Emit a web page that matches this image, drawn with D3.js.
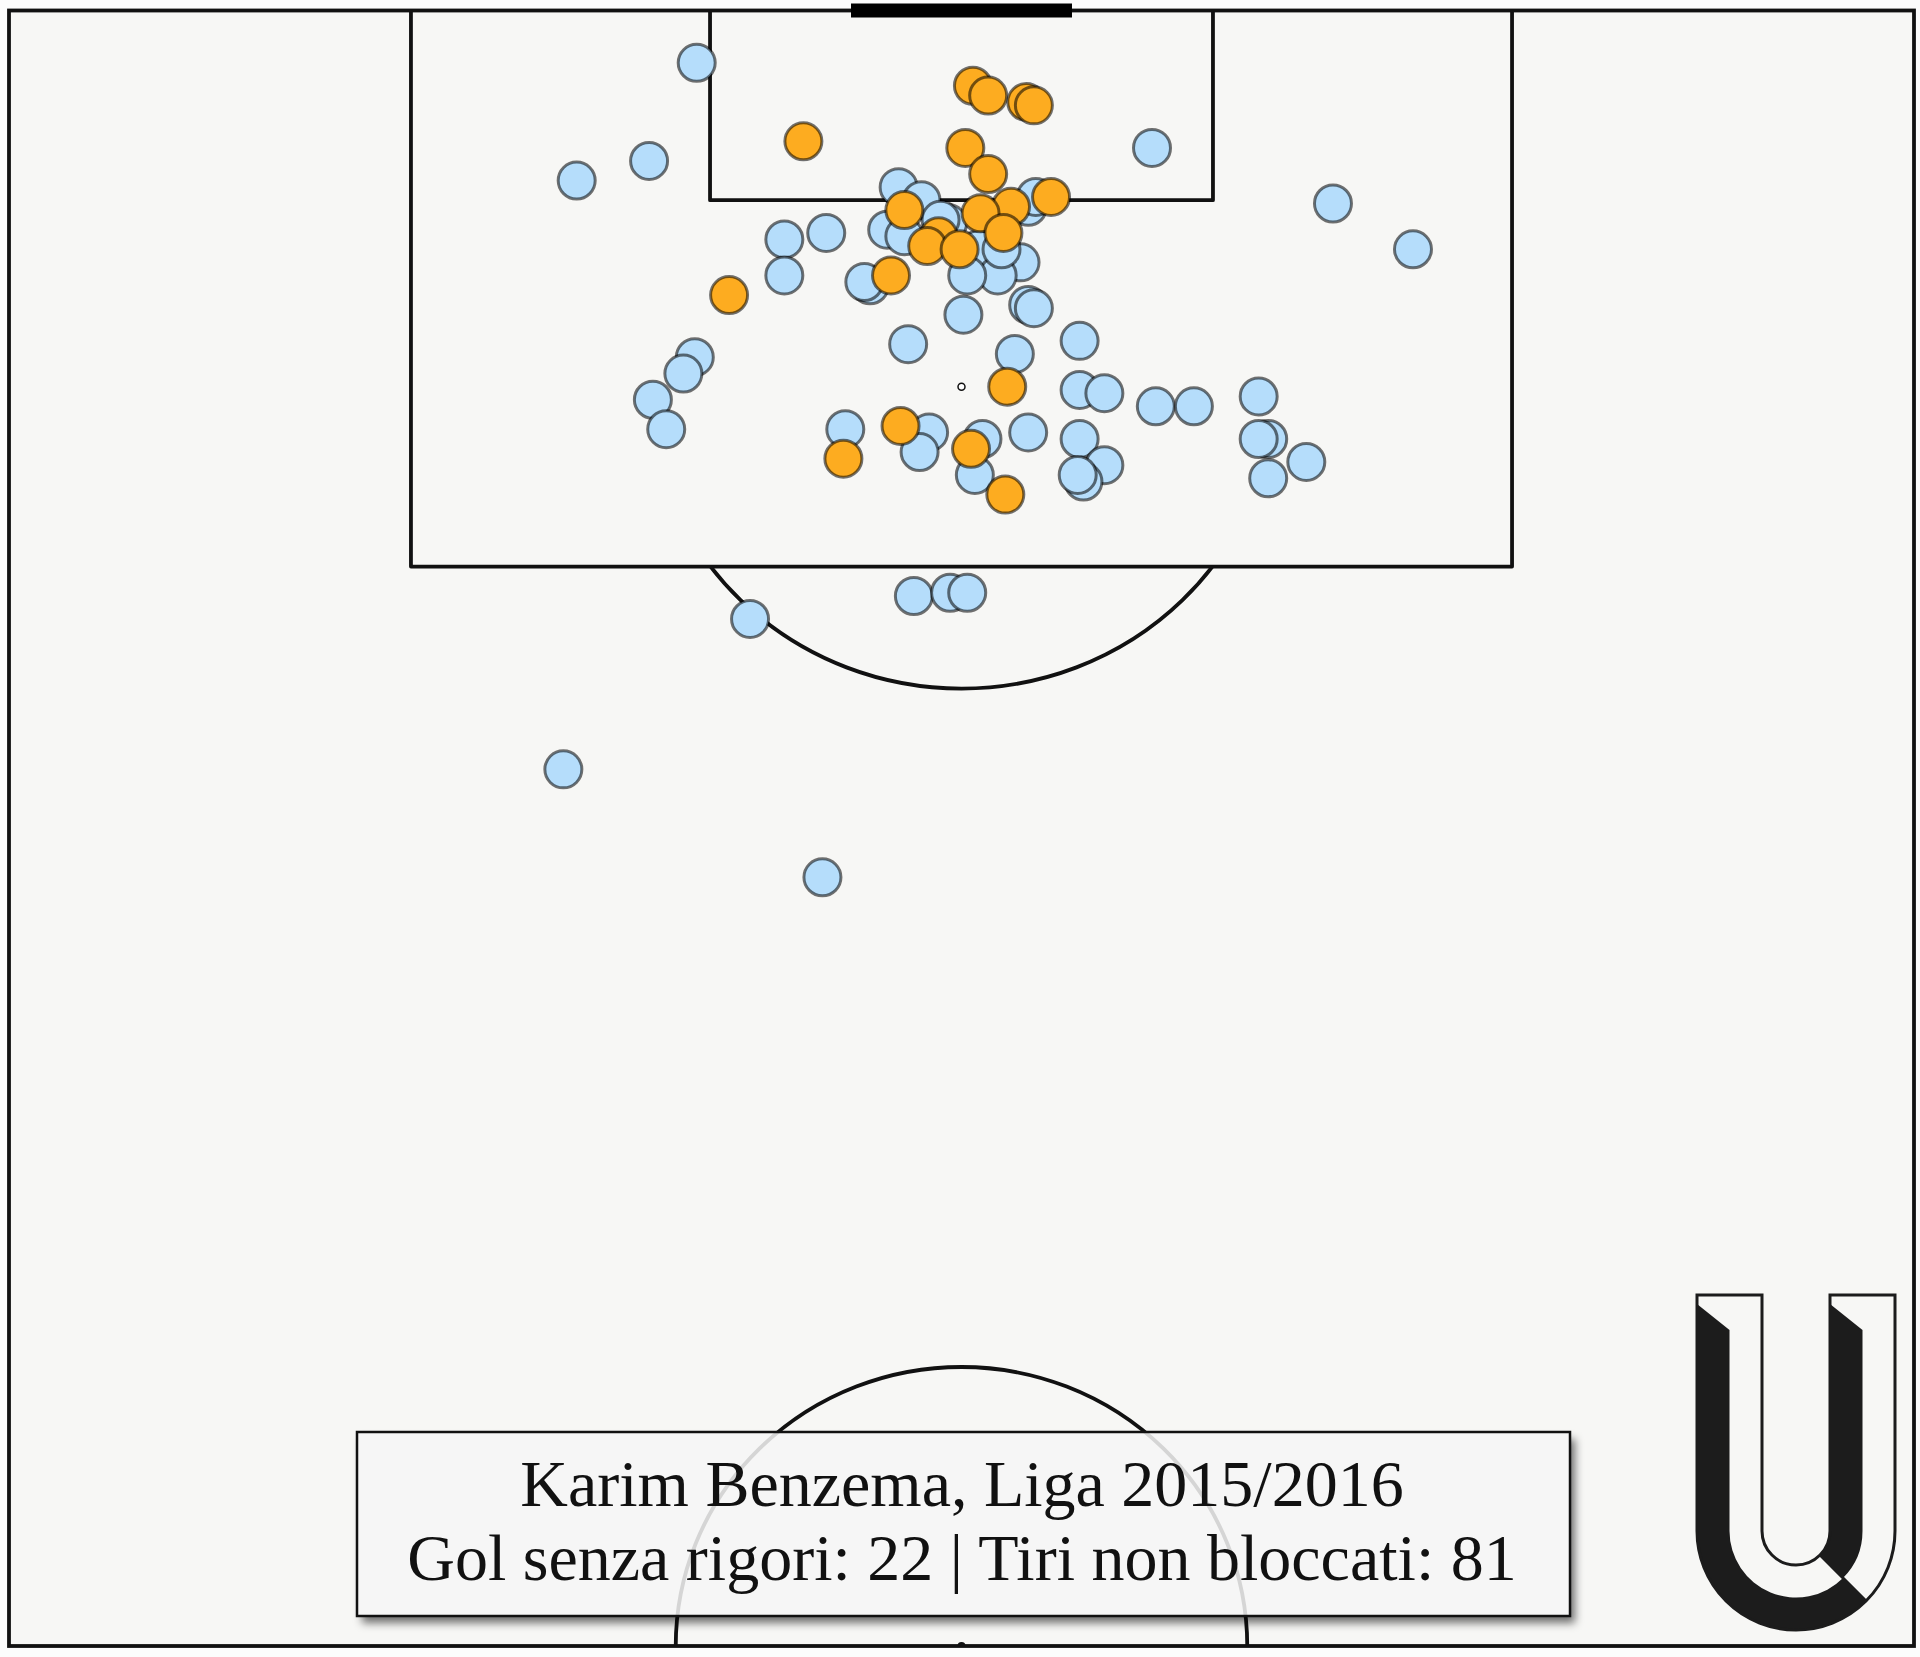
<!DOCTYPE html>
<html><head><meta charset="utf-8">
<script src="https://cdn.jsdelivr.net/npm/d3@7"></script>
<style>html,body{margin:0;padding:0;background:#fcfcfc;} svg{display:block}</style>
</head><body>
<svg id="chart" width="1920" height="1657"></svg>
<script>
// Shot locations in Opta-style pitch units:
//   across = position across the pitch width (0..100), along = distance along pitch (50 = halfway, 100 = goal line)
const goalsAcross = [41.7, 50.6, 51.4, 53.4, 53.8, 50.2, 51.4, 54.7, 52.6, 51.0, 47.0, 48.8, 48.2, 49.9, 52.2, 37.8, 46.3, 52.4, 46.8, 43.8, 50.5, 52.3];
const goalsAlong  = [96.0, 97.7, 97.4, 97.2, 97.1, 95.8, 95.0, 94.3, 94.0, 93.8, 93.9, 93.1, 92.8, 92.7, 93.2, 91.3, 91.9, 88.5, 87.3, 86.3, 86.6, 85.2];

const shotsAcross = [36.1, 33.6, 29.8, 60.0, 69.5, 73.7, 40.7, 42.9, 40.7, 46.7, 47.9, 46.1, 47.0, 49.3, 50.9, 53.5, 53.1, 51.9, 50.3, 53.5,
                     53.8, 50.1, 47.2, 52.8, 45.2, 44.9, 36.0, 35.4, 33.8, 34.5, 56.2, 56.2, 57.5, 43.9, 48.3, 47.8, 51.1, 50.7, 53.5, 56.2,
                     57.5, 56.4, 56.1, 60.2, 62.2, 65.6, 66.1, 65.6, 68.1, 66.1, 38.9, 47.5, 49.4, 50.3, 29.1, 42.7, 48.9, 52.1, 53.9];
const shotsAlong  = [98.4, 95.4, 94.8, 95.8, 94.1, 92.7, 93.0, 93.2, 91.9, 94.6, 94.2, 93.3, 93.1, 93.5, 92.7, 94.0, 92.3, 91.9, 91.9, 91.0,
                     90.9, 90.7, 89.8, 89.5, 91.6, 91.7, 89.4, 88.9, 88.1, 87.2, 89.9, 88.4, 88.3, 87.2, 87.1, 86.5, 86.9, 85.8, 87.1, 86.9,
                     86.1, 85.6, 85.8, 87.9, 87.9, 88.2, 86.9, 86.9, 86.2, 85.7, 81.4, 82.1, 82.2, 82.2, 76.8, 73.5, 93.6, 92.7, 94.3];

const titleLines = ["Karim Benzema, Liga 2015/2016", "Gol senza rigori: 22 | Tiri non bloccati: 81"];

// Pitch markings (same units)
const penaltyBoxAcross = [21.1, 78.9], penaltyBoxAlong = [83, 100];
const sixYardAcross = [36.8, 63.2], sixYardAlong = [94.2, 100];
const goalAcross = [44.2, 55.8];
const penaltySpot = [50, 88.5];
const arcRadius = [16.4, 9.23];      // [across, along]
const centreRadius = [15.0, 8.53];

(function () {
const svg = d3.select("#chart");
const W = 1920, H = 1657;
const sx = d3.scaleLinear().domain([0, 100]).range([9, 1914]);
const sy = d3.scaleLinear().domain([100, 50]).range([10.5, 1646]);

const LINE = "#111";
const defs = svg.append("defs");
defs.append("clipPath").attr("id", "pitchClip").append("rect")
  .attr("x", sx(0)).attr("y", sy(100)).attr("width", sx(100) - sx(0)).attr("height", sy(50) - sy(100));
defs.append("clipPath").attr("id", "arcClip").append("rect")
  .attr("x", sx(0)).attr("y", sy(penaltyBoxAlong[0])).attr("width", sx(100) - sx(0)).attr("height", sy(50) - sy(penaltyBoxAlong[0]));

// pitch
svg.append("rect").attr("x", sx(0)).attr("y", sy(100))
  .attr("width", sx(100) - sx(0)).attr("height", sy(50) - sy(100))
  .attr("fill", "#f7f7f5");

const marks = svg.append("g").attr("fill", "none").attr("stroke", LINE).attr("stroke-width", 3.8);
// D arc
marks.append("ellipse").attr("clip-path", "url(#arcClip)")
  .attr("cx", sx(penaltySpot[0])).attr("cy", sy(penaltySpot[1]))
  .attr("rx", sx(arcRadius[0]) - sx(0)).attr("ry", sy(100 - arcRadius[1]) - sy(100));
// centre circle
marks.append("ellipse").attr("clip-path", "url(#pitchClip)")
  .attr("cx", sx(50)).attr("cy", sy(50))
  .attr("rx", sx(centreRadius[0]) - sx(0)).attr("ry", sy(100 - centreRadius[1]) - sy(100));
// penalty box & six-yard box
[[penaltyBoxAcross, penaltyBoxAlong], [sixYardAcross, sixYardAlong]].forEach(([a, l]) => {
  marks.append("path").attr("stroke-linejoin", "round")
    .attr("d", `M${sx(a[0])},${sy(l[1])}V${sy(l[0])}H${sx(a[1])}V${sy(l[1])}`);
});
// outer line
marks.append("rect").attr("x", sx(0)).attr("y", sy(100))
  .attr("width", sx(100) - sx(0)).attr("height", sy(50) - sy(100));
// penalty spot
svg.append("circle").attr("cx", sx(penaltySpot[0])).attr("cy", sy(penaltySpot[1])).attr("r", 3.5)
  .attr("fill", "#fff").attr("stroke", LINE).attr("stroke-width", 1.5);
// centre spot
svg.append("circle").attr("clip-path", "url(#pitchClip)").attr("cx", sx(50)).attr("cy", sy(50)).attr("r", 4)
  .attr("fill", LINE);
// goal
svg.append("line").attr("x1", sx(goalAcross[0])).attr("x2", sx(goalAcross[1]))
  .attr("y1", sy(100)).attr("y2", sy(100)).attr("stroke", "#000").attr("stroke-width", 14);

// shots
const shots = shotsAcross.map((a, i) => ({a, l: shotsAlong[i]}));
const goals = goalsAcross.map((a, i) => ({a, l: goalsAlong[i]}));
const R = 18.5;
svg.append("g").selectAll("circle").data(shots).join("circle")
  .attr("cx", d => sx(d.a)).attr("cy", d => sy(d.l)).attr("r", R)
  .attr("fill", "#b5ddfb").attr("stroke", "rgba(0,0,0,0.55)").attr("stroke-width", 3);
svg.append("g").selectAll("circle").data(goals).join("circle")
  .attr("cx", d => sx(d.a)).attr("cy", d => sy(d.l)).attr("r", R)
  .attr("fill", "#fdac20").attr("stroke", "rgba(0,0,0,0.55)").attr("stroke-width", 3);

// title box
const bx = 357, by = 1432, bw = 1213, bh = 184;
defs.append("filter").attr("id", "blur").attr("x", "-10%").attr("y", "-30%").attr("width", "120%").attr("height", "160%")
  .append("feGaussianBlur").attr("stdDeviation", 4);
defs.append("clipPath").attr("id", "outsideBox").append("path").attr("clip-rule", "evenodd")
  .attr("d", `M0,0H${W}V${H}H0Z M${bx},${by}h${bw}v${bh}h${-bw}Z`);
svg.append("g").attr("clip-path", "url(#outsideBox)")
  .append("rect").attr("x", bx + 5).attr("y", by + 7).attr("width", bw).attr("height", bh)
  .attr("fill", "rgba(0,0,0,0.55)").attr("filter", "url(#blur)");
svg.append("rect").attr("x", bx).attr("y", by).attr("width", bw).attr("height", bh)
  .attr("fill", "rgba(246,246,246,0.86)").attr("stroke", "#111").attr("stroke-width", 2.5);
svg.append("g").selectAll("text").data(titleLines).join("text")
  .attr("x", 962).attr("y", (d, i) => 1506 + i * 74)
  .attr("text-anchor", "middle")
  .attr("font-family", "'Liberation Serif', 'DejaVu Serif', serif")
  .attr("font-size", 66).attr("fill", "#111")
  .text(d => d);

// logo
const cx = 1796, cy = 1531, Ro = 99, Ri = 34, Rm = 66.5, lt = 1295, c = Math.SQRT1_2;
const logo = svg.append("g");
const P = r => [cx + r * c, cy + r * c];
const [oX, oY] = P(Ro), [mX, mY] = P(Rm), [iX, iY] = P(Ri);
logo.append("path").attr("fill", "#1c1c1c")
  .attr("d", `M${cx - Ro},${lt + 9}L${cx - Ro},${cy}A${Ro},${Ro} 0 0 0 ${oX},${oY}L${mX},${mY}A${Rm},${Rm} 0 0 1 ${cx - Rm},${cy}L${cx - Rm},${lt + 35}Z`);
logo.append("path").attr("fill", "#1c1c1c")
  .attr("d", `M${cx + Ri},${lt + 9}L${cx + Rm},${lt + 35}L${cx + Rm},${cy}A${Rm},${Rm} 0 0 1 ${mX},${mY}L${iX},${iY}A${Ri},${Ri} 0 0 0 ${cx + Ri},${cy}Z`);
logo.append("path").attr("fill", "none").attr("stroke", "#1c1c1c").attr("stroke-width", 3).attr("stroke-linejoin", "miter")
  .attr("d", `M${cx - Ro},${lt}L${cx - Ro},${cy}A${Ro},${Ro} 0 0 0 ${cx + Ro},${cy}L${cx + Ro},${lt}L${cx + Ri},${lt}L${cx + Ri},${cy}A${Ri},${Ri} 0 0 1 ${cx - Ri},${cy}L${cx - Ri},${lt}Z`);
logo.append("line").attr("x1", iX).attr("y1", iY).attr("x2", oX).attr("y2", oY)
  .attr("stroke", "#1c1c1c").attr("stroke-width", 3);
})();
</script>
</body></html>
